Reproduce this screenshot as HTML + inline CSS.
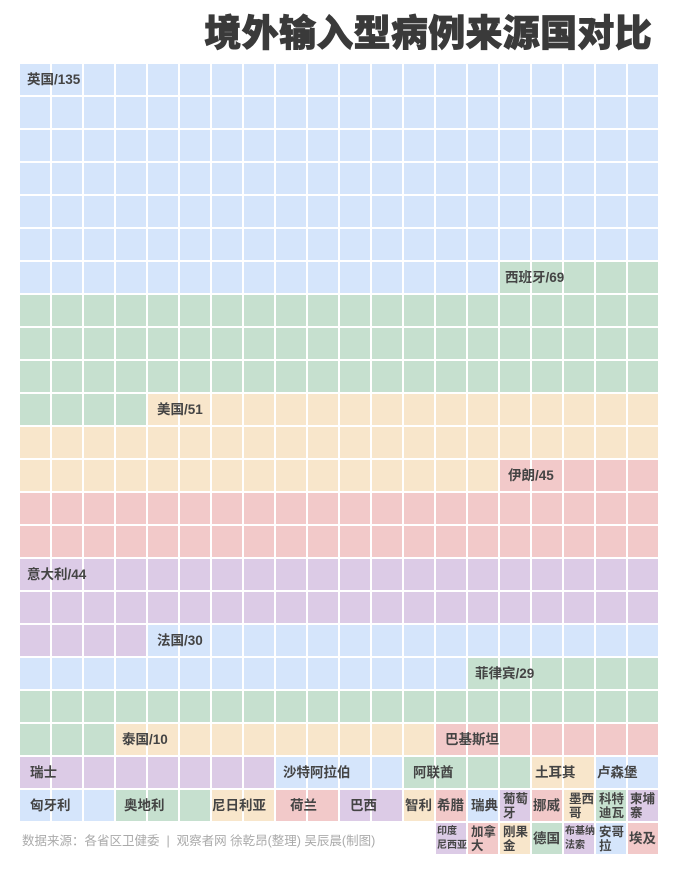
<!DOCTYPE html>
<html><head><meta charset="utf-8">
<style>
body{margin:0;background:#fff;width:680px;height:869px;position:relative;overflow:hidden;font-family:"Liberation Sans","Noto Sans CJK SC",sans-serif;}
.t{position:absolute;left:196px;top:8px;width:456px;text-align:right;font-size:37px;font-weight:900;color:#3a3a3a;-webkit-text-stroke:0.8px #3a3a3a;letter-spacing:0.3px;white-space:nowrap;line-height:52px}
#g{position:absolute;left:20px;top:64px;width:640px;height:792px}
#g div.r{position:absolute;height:33px}
#ov{position:absolute;left:20px;top:64px;width:640px;height:792px;background:repeating-linear-gradient(90deg,transparent 0 30px,#fff 30px 32px),repeating-linear-gradient(180deg,transparent 0 31px,#fff 31px 33px)}
.B{background:#d5e5fb}.G{background:#c6e0cf}.Y{background:#f8e6cb}.P{background:#f2c9c9}.V{background:#dccbe6}
.l{position:absolute;font-size:13.5px;font-weight:bold;color:#444;white-space:nowrap;line-height:31px}
.s{position:absolute;font-size:12.5px;font-weight:bold;color:#444;line-height:14px;width:30px;text-align:left;padding-left:2px;white-space:nowrap}
.s2{font-size:10px;line-height:14px;padding-left:1px}
.f{position:absolute;left:22px;top:830px;font-size:12.5px;color:#aaa;white-space:nowrap}
</style></head><body>
<div class="t">境外输入型病例来源国对比</div>
<div id="g">
<div class="r B" style="left:0;top:0;width:640px;height:198px"></div>
<div class="r B" style="left:0;top:198px;width:480px"></div>
<div class="r G" style="left:480px;top:198px;width:160px"></div>
<div class="r G" style="left:0;top:231px;width:640px;height:99px"></div>
<div class="r G" style="left:0;top:330px;width:128px"></div>
<div class="r Y" style="left:128px;top:330px;width:512px"></div>
<div class="r Y" style="left:0;top:363px;width:640px"></div>
<div class="r Y" style="left:0;top:396px;width:480px"></div>
<div class="r P" style="left:480px;top:396px;width:160px"></div>
<div class="r P" style="left:0;top:429px;width:640px;height:66px"></div>
<div class="r V" style="left:0;top:495px;width:640px;height:66px"></div>
<div class="r V" style="left:0;top:561px;width:128px"></div>
<div class="r B" style="left:128px;top:561px;width:512px"></div>
<div class="r B" style="left:0;top:594px;width:448px"></div>
<div class="r G" style="left:448px;top:594px;width:192px"></div>
<div class="r G" style="left:0;top:627px;width:640px"></div>
<div class="r G" style="left:0;top:660px;width:96px"></div>
<div class="r Y" style="left:96px;top:660px;width:320px"></div>
<div class="r P" style="left:416px;top:660px;width:224px"></div>
<div class="r V" style="left:0;top:693px;width:256px"></div>
<div class="r B" style="left:256px;top:693px;width:128px"></div>
<div class="r G" style="left:384px;top:693px;width:128px"></div>
<div class="r Y" style="left:512px;top:693px;width:64px"></div>
<div class="r B" style="left:576px;top:693px;width:64px"></div>
<div class="r B" style="left:0;top:726px;width:96px"></div>
<div class="r G" style="left:96px;top:726px;width:96px"></div>
<div class="r Y" style="left:192px;top:726px;width:64px"></div>
<div class="r P" style="left:256px;top:726px;width:64px"></div>
<div class="r V" style="left:320px;top:726px;width:64px"></div>
<div class="r Y" style="left:384px;top:726px;width:32px"></div>
<div class="r P" style="left:416px;top:726px;width:32px"></div>
<div class="r B" style="left:448px;top:726px;width:32px"></div>
<div class="r V" style="left:480px;top:726px;width:32px"></div>
<div class="r P" style="left:512px;top:726px;width:32px"></div>
<div class="r Y" style="left:544px;top:726px;width:32px"></div>
<div class="r G" style="left:576px;top:726px;width:32px"></div>
<div class="r V" style="left:608px;top:726px;width:32px"></div>
<div class="r V" style="left:416px;top:759px;width:32px"></div>
<div class="r P" style="left:448px;top:759px;width:32px"></div>
<div class="r Y" style="left:480px;top:759px;width:32px"></div>
<div class="r G" style="left:512px;top:759px;width:32px"></div>
<div class="r V" style="left:544px;top:759px;width:32px"></div>
<div class="r B" style="left:576px;top:759px;width:32px"></div>
<div class="r P" style="left:608px;top:759px;width:32px"></div>
</div>
<div id="ov"></div>
<div class="l" style="left:27px;top:64px">英国/135</div>
<div class="l" style="left:505px;top:262px">西班牙/69</div>
<div class="l" style="left:157px;top:394px">美国/51</div>
<div class="l" style="left:508px;top:460px">伊朗/45</div>
<div class="l" style="left:27px;top:559px">意大利/44</div>
<div class="l" style="left:157px;top:625px">法国/30</div>
<div class="l" style="left:475px;top:658px">菲律宾/29</div>
<div class="l" style="left:122px;top:724px">泰国/10</div>
<div class="l" style="left:445px;top:724px">巴基斯坦</div>
<div class="l" style="left:30px;top:757px">瑞士</div>
<div class="l" style="left:283px;top:757px">沙特阿拉伯</div>
<div class="l" style="left:413px;top:757px">阿联酋</div>
<div class="l" style="left:535px;top:757px">土耳其</div>
<div class="l" style="left:597px;top:757px">卢森堡</div>
<div class="l" style="left:30px;top:790px">匈牙利</div>
<div class="l" style="left:124px;top:790px">奥地利</div>
<div class="l" style="left:212px;top:790px">尼日利亚</div>
<div class="l" style="left:290px;top:790px">荷兰</div>
<div class="l" style="left:350px;top:790px">巴西</div>
<div class="l" style="left:405px;top:790px">智利</div>
<div class="l" style="left:437px;top:790px">希腊</div>
<div class="l" style="left:471px;top:790px">瑞典</div>
<div class="s" style="left:501px;top:792px">葡萄<br>牙</div>
<div class="l" style="left:533px;top:790px">挪威</div>
<div class="s" style="left:567px;top:792px">墨西<br>哥</div>
<div class="s" style="left:597px;top:792px">科特<br>迪瓦</div>
<div class="s" style="left:628px;top:792px">柬埔<br>寨</div>
<div class="s s2" style="left:436px;top:825px">印度<br>尼西亚</div>
<div class="s" style="left:469px;top:825px">加拿<br>大</div>
<div class="s" style="left:501px;top:825px">刚果<br>金</div>
<div class="l" style="left:533px;top:823px">德国</div>
<div class="s s2" style="left:564px;top:825px">布基纳<br>法索</div>
<div class="s" style="left:597px;top:825px">安哥<br>拉</div>
<div class="l" style="left:629px;top:823px">埃及</div>
<div class="f">数据来源：各省区卫健委 &nbsp;| &nbsp;观察者网 徐乾昂(整理) 吴辰晨(制图)</div>
</body></html>
